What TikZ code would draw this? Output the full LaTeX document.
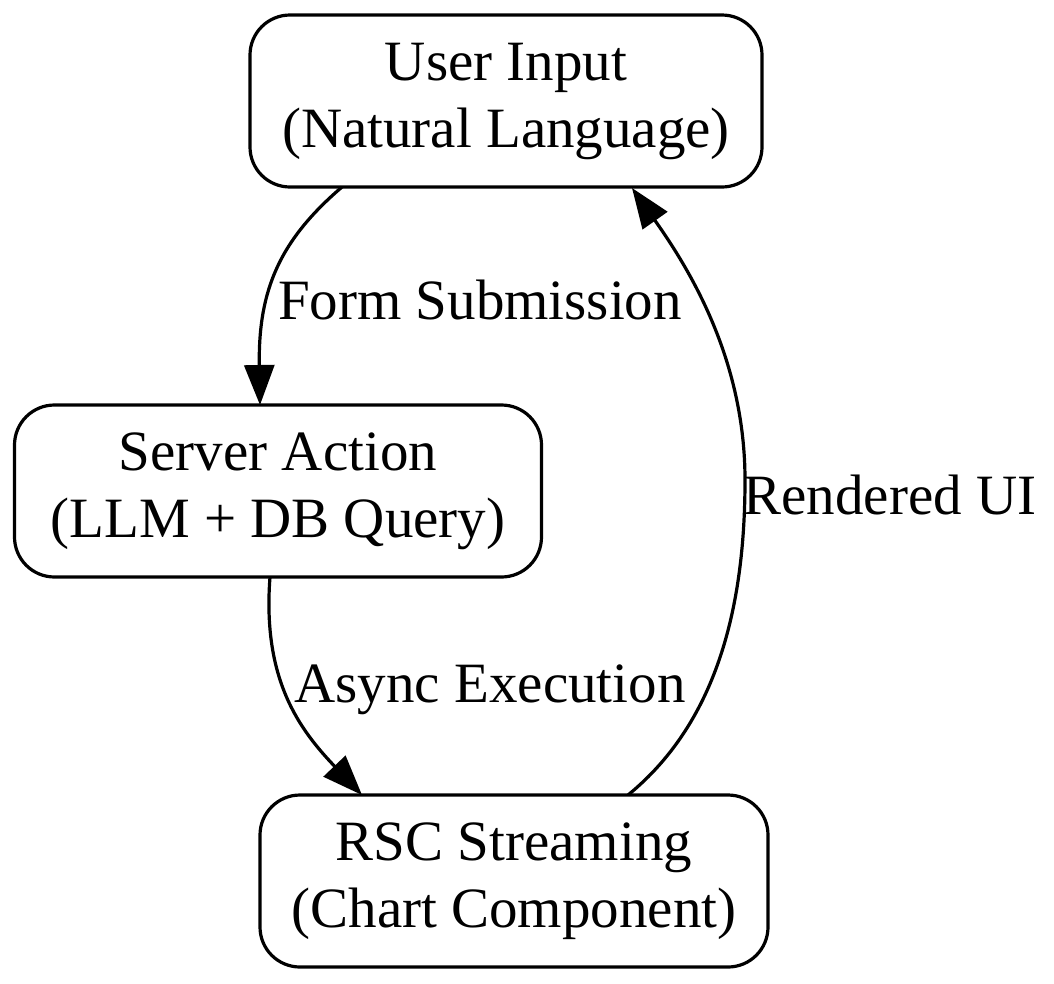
\documentclass[tikz,border=0pt]{standalone}
\usepackage{fontspec}
\setmainfont{Liberation Serif}
\usetikzlibrary{arrows.meta}
\begin{document}
\begin{tikzpicture}[x=1pt,y=-1pt,
  box/.style={draw,line width=3.2pt,rounded corners=40pt,align=center,font=\fontsize{57}{67}\selectfont},
  lab/.style={font=\fontsize{57}{67}\selectfont},
  edge/.style={line width=3.2pt,-{Triangle[length=40pt,width=30pt]}}]
\useasboundingbox (0,0) rectangle (1054,983);
\node[box,minimum width=512pt,minimum height=172pt] (u) at (506,101) {User Input\\(Natural Language)};
\node[box,minimum width=527pt,minimum height=172pt] (s) at (278,491) {Server Action\\(LLM + DB Query)};
\node[box,minimum width=508pt,minimum height=172pt] (r) at (514,881) {RSC Streaming\\(Chart Component)};
\coordinate (u1) at (342,187);
\coordinate (s1) at (260,405);
\coordinate (s2) at (270,577);
\coordinate (r1) at (362,795);
\coordinate (r2) at (628,795);
\coordinate (u2) at (632,188);
\draw[edge] (u1) .. controls (280,240) and (258,290) .. (s1);
\draw[edge] (s2) .. controls (262,680) and (300,730) .. (r1);
\draw[edge] (r2) .. controls (720,720) and (745,600) .. (745,480) .. controls (745,360) and (690,270) .. (u2);
\node[lab] (l1) at (480,300) {Form Submission};
\node[lab] (l2) at (490,690) {Async Execution};
\node[lab] (l3) at (890,495) {Rendered UI};
\end{tikzpicture}
\end{document}
